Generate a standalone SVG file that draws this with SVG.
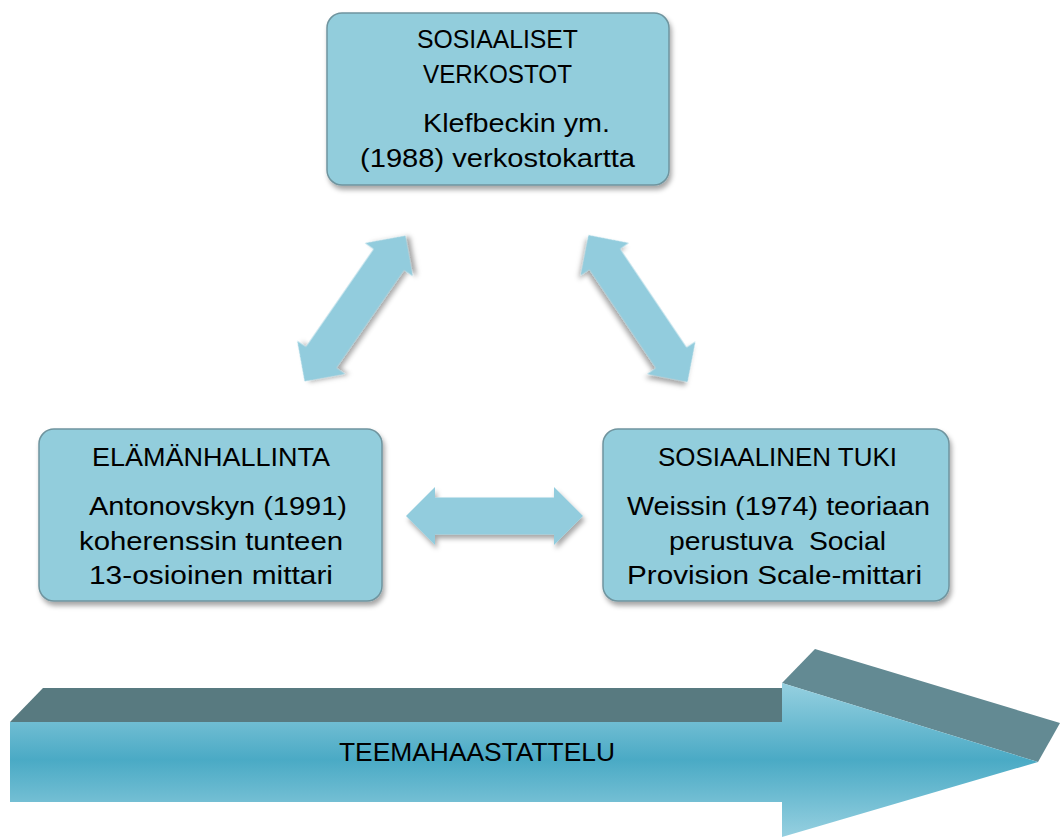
<svg xmlns="http://www.w3.org/2000/svg" width="1060" height="837" viewBox="0 0 1060 837">
<defs>
<style>
.box{fill:#92CDDC;stroke:#6f949e;stroke-width:1.5;filter:url(#sh)}
.arr{fill:#92CCDD;filter:url(#sh)}
.t{font-family:"Liberation Sans",Arial,sans-serif;font-size:25px;fill:#000}
</style>
<filter id="sh" x="-10%" y="-10%" width="125%" height="130%">
<feDropShadow dx="2" dy="4" stdDeviation="2.5" flood-color="#000" flood-opacity="0.35"/>
</filter>
<linearGradient id="g" gradientUnits="userSpaceOnUse" x1="0" y1="683" x2="0" y2="837">
<stop offset="0" stop-color="#96d0e0"/>
<stop offset="0.5" stop-color="#4aaac5"/>
<stop offset="1" stop-color="#96d0e0"/>
</linearGradient>
<polygon id="dbl" points="-88.5,0 -59.5,-29 -59.5,-18.5 59.5,-18.5 59.5,-29 88.5,0 59.5,29 59.5,18.5 -59.5,18.5 -59.5,29"/>
</defs>

<g id="connectors">
<use href="#dbl" class="arr" transform="translate(355,308.5) rotate(-55.3)"/>
<use href="#dbl" class="arr" transform="translate(638,308.5) rotate(56)"/>
<use href="#dbl" class="arr" transform="translate(494.5,516)"/>
</g>

<g id="sosiaaliset-verkostot">
<rect class="box" x="327" y="13" width="342" height="172" rx="15"/>
<text class="t" x="497.5" y="48" text-anchor="middle" textLength="161" lengthAdjust="spacingAndGlyphs">SOSIAALISET</text>
<text class="t" x="497.5" y="83" text-anchor="middle" textLength="149" lengthAdjust="spacingAndGlyphs">VERKOSTOT</text>
<text class="t" x="516.5" y="132" text-anchor="middle" textLength="187" lengthAdjust="spacingAndGlyphs">Klefbeckin ym.</text>
<text class="t" x="497.5" y="167" text-anchor="middle" textLength="275" lengthAdjust="spacingAndGlyphs">(1988) verkostokartta</text>
</g>

<g id="elamanhallinta">
<rect class="box" x="39" y="429" width="343" height="172" rx="15"/>
<text class="t" x="211" y="466" text-anchor="middle" textLength="238" lengthAdjust="spacingAndGlyphs">ELÄMÄNHALLINTA</text>
<text class="t" x="218" y="515" text-anchor="middle" textLength="258" lengthAdjust="spacingAndGlyphs">Antonovskyn (1991)</text>
<text class="t" x="211" y="550" text-anchor="middle" textLength="264" lengthAdjust="spacingAndGlyphs">koherenssin tunteen</text>
<text class="t" x="211" y="584" text-anchor="middle" textLength="244" lengthAdjust="spacingAndGlyphs">13-osioinen mittari</text>
</g>

<g id="sosiaalinen-tuki">
<rect class="box" x="603" y="429" width="346" height="172" rx="15"/>
<text class="t" x="777.5" y="466" text-anchor="middle" textLength="239" lengthAdjust="spacingAndGlyphs">SOSIAALINEN TUKI</text>
<text class="t" x="778.5" y="515" text-anchor="middle" textLength="303" lengthAdjust="spacingAndGlyphs">Weissin (1974) teoriaan</text>
<text class="t" x="777.5" y="550" text-anchor="middle" textLength="217" lengthAdjust="spacingAndGlyphs" xml:space="preserve">perustuva  Social</text>
<text class="t" x="774.5" y="584" text-anchor="middle" textLength="295" lengthAdjust="spacingAndGlyphs">Provision Scale-mittari</text>
</g>

<g id="teemahaastattelu">
<polygon points="10,722 43,688 782,688 782,722" fill="#587a80"/>
<polygon points="782,683 815,649 1060,723 1038,762" fill="#638a93"/>
<polygon points="10,722 782,722 782,683 1038,762 782,837 782,802 10,802" fill="url(#g)"/>
<text class="t" x="477" y="761" text-anchor="middle" textLength="276" lengthAdjust="spacingAndGlyphs">TEEMAHAASTATTELU</text>
</g>
</svg>
